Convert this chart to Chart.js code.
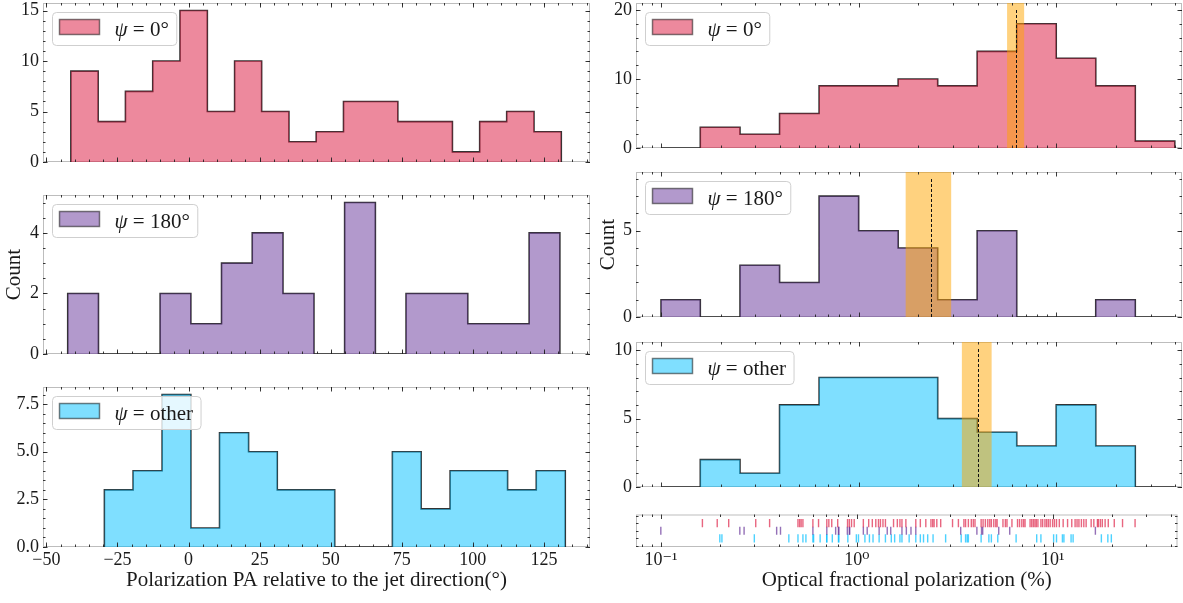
<!DOCTYPE html>
<html>
<head>
<meta charset="utf-8">
<script src="https://cdn.jsdelivr.net/npm/chart.js@4.4.0/dist/chart.umd.min.js"></script>
<style>
  html, body { margin: 0; padding: 0; background: #fff; overflow: hidden; }
  #wrap { position: relative; width: 1183px; height: 603px; }
  canvas { position: absolute; }
</style>
</head>
<body>
<div id="wrap"></div>
<script>
/*------ data: polarization PA histograms (deg) ------*/
const paEdges0 = [-41.4, -31.8, -22.2, -12.6, -3.0, 6.6, 16.2, 25.7, 35.3, 44.9, 54.5, 64.1, 73.6, 83.2, 92.8, 102.4, 111.9, 121.5, 131.1];
const paCounts0 = [9, 4, 7, 10, 15, 5, 10, 5, 2, 3, 6, 6, 4, 4, 1, 4, 5, 3];
const paEdges180 = [-42.5, -31.7, -20.9, -10.0, 0.8, 11.6, 22.4, 33.2, 44.1, 54.9, 65.7, 76.5, 87.3, 98.2, 109.0, 119.8, 130.6];
const paCounts180 = [2, 0, 0, 2, 1, 3, 4, 2, 0, 5, 0, 2, 2, 1, 1, 4];
const paEdgesOther = [-29.6, -19.5, -9.3, 0.8, 10.9, 21.1, 31.2, 41.3, 51.4, 61.6, 71.7, 81.8, 92.0, 102.1, 112.2, 122.3, 132.5];
const paCountsOther = [3, 4, 8, 1, 6, 5, 3, 3, 0, 0, 5, 2, 4, 4, 3, 4];

/*------ data: optical fractional polarization (%) ------*/
const fpEdges = [0.1, 0.158, 0.251, 0.398, 0.631, 1.0, 1.585, 2.512, 3.981, 6.31, 10.0, 15.85, 25.12, 39.81];
const fpCounts0 = [0, 3, 2, 5, 9, 9, 10, 9, 14, 18, 13, 9, 1];
const fpCounts180 = [1, 0, 3, 2, 7, 5, 4, 1, 5, 0, 0, 1, 0];
const fpCountsOther = [0, 2, 1, 6, 8, 8, 8, 5, 4, 3, 6, 3, 0];

const fpBand0 = [5.64, 6.88], fpMedian0 = 6.24;
const fpBand180 = [1.73, 2.94], fpMedian180 = 2.33;
const fpBandOther = [3.33, 4.71], fpMedianOther = 4.0;

const rug0 = [0.163, 0.194, 0.222, 0.305, 0.359, 0.501, 0.511, 0.52, 0.531, 0.597,
  0.638, 0.703, 0.72, 0.745, 0.799, 0.897, 0.916, 0.94, 0.97,
  1.08, 1.15, 1.20, 1.25, 1.29, 1.32, 1.36, 1.40, 1.54,
  1.61, 1.66, 1.70, 1.78, 2.00, 2.11, 2.25, 2.39, 2.44, 2.48,
  2.56, 2.68, 3.08, 3.30, 3.52, 3.59, 3.71, 3.84, 3.93,
  4.01, 4.31, 4.41, 4.53, 4.66, 4.77, 4.86, 5.00, 5.12, 5.20, 5.57, 5.73, 5.84, 6.19,
  6.61, 6.77, 6.95, 7.1, 7.22, 7.66, 7.81, 7.96, 8.11, 8.24, 8.4, 8.70, 8.88, 9.12, 9.30, 9.49, 9.7, 9.98,
  10.2, 10.45, 10.8, 11.3, 11.9, 12.5, 13.0, 13.3, 13.6, 14.0, 14.4, 14.8, 15.7,
  16.2, 16.9, 17.1, 17.5, 17.9, 18.5, 19.2, 20.6, 22.7, 26.3];
const rug180 = [0.100, 0.253, 0.266, 0.39, 0.408, 0.597, 0.703, 0.78, 0.806, 0.81, 0.895, 0.916, 0.92,
  1.08, 1.13, 1.30, 1.43, 1.49, 1.70, 1.79, 1.89, 2.00, 3.39, 4.10, 4.33, 4.39, 5.30, 6.03, 16.5];
const rugOther = [0.200, 0.205, 0.300, 0.45, 0.501, 0.531, 0.55, 0.597, 0.602,
  0.65, 0.702, 0.703, 0.75, 0.806, 0.81, 0.90, 0.995,
  1.02, 1.10, 1.16, 1.21, 1.30, 1.40, 1.50, 1.56,
  1.66, 1.70, 1.85, 2.00, 2.11, 2.19, 2.30, 2.45,
  2.84, 3.41, 3.59, 3.66, 3.71, 4.31, 4.72, 4.86, 5.24,
  6.50, 8.28, 8.70, 10.1, 10.45, 11.2, 11.4, 12.4, 12.7, 17.7, 19.1, 19.9];

const fpTicks = [0.1, 1, 10];
const groupLabels = ['0°', '180°', 'other'];

/*------ style ------*/
const FONT = "'Liberation Serif', 'DejaVu Serif', serif";
const INK = '#1a1a1a';
const fillCols = ['rgba(220, 20, 60, 0.5)', 'rgba(102, 51, 153, 0.5)', 'rgba(0, 191, 255, 0.5)'];
const rugCols = ['rgba(220, 20, 60, 0.65)', 'rgba(102, 51, 153, 0.7)', 'rgba(0, 191, 255, 0.7)'];

Chart.defaults.font.family = FONT;
Chart.defaults.color = INK;

function stepPoints(edges, counts) {
  const pts = [{x: edges[0], y: 0}];
  counts.forEach((c, i) => pts.push({x: edges[i], y: c}));
  pts.push({x: edges[edges.length - 1], y: 0});
  return pts;
}

function minorValues(scale, step) {
  const out = [];
  if (scale.type === 'logarithmic') {
    const k0 = Math.floor(Math.log10(scale.min)), k1 = Math.ceil(Math.log10(scale.max));
    for (let k = k0; k <= k1; k++) {
      for (let m = 2; m <= 9; m++) {
        const v = m * Math.pow(10, k);
        if (v >= scale.min && v <= scale.max) out.push(v);
      }
    }
  } else if (step) {
    for (let v = Math.ceil(scale.min / step) * step; v <= scale.max + 1e-9; v += step) out.push(v);
  }
  return out;
}

function roundRect(ctx, x, y, w, h, r) {
  ctx.beginPath();
  ctx.moveTo(x + r, y);
  ctx.lineTo(x + w - r, y);
  ctx.arcTo(x + w, y, x + w, y + r, r);
  ctx.lineTo(x + w, y + h - r);
  ctx.arcTo(x + w, y + h, x + w - r, y + h, r);
  ctx.lineTo(x + r, y + h);
  ctx.arcTo(x, y + h, x, y + h - r, r);
  ctx.lineTo(x, y + r);
  ctx.arcTo(x, y, x + r, y, r);
  ctx.closePath();
}

/*------ frame, inward ticks, span, median, legend ------*/
const decor = {
  id: 'decor',
  beforeDatasetsDraw(chart) {
    const {ctx, chartArea: a} = chart;
    ctx.save();
    ctx.strokeStyle = '#bdbdbd';
    ctx.lineWidth = 1;
    ctx.strokeRect(a.left + 0.5, a.top + 0.5, a.right - a.left - 1, a.bottom - a.top - 1);
    ctx.restore();
  },
  afterDatasetDraw(chart, args, o) {
    if (args.index !== 0 || !o.band) return;
    const {ctx, chartArea: a, scales: {x}} = chart;
    const x0 = x.getPixelForValue(o.band[0]), x1 = x.getPixelForValue(o.band[1]);
    ctx.save();
    ctx.fillStyle = 'rgba(255, 165, 0, 0.5)';
    ctx.fillRect(x0, a.top, x1 - x0, a.bottom - a.top);
    ctx.restore();
  },
  afterDatasetsDraw(chart, args, o) {
    const {ctx, chartArea: a, scales: {x, y}} = chart;
    ctx.save();
    if (o.median) {
      const px = Math.round(x.getPixelForValue(o.median)) + 0.5;
      ctx.strokeStyle = '#111';
      ctx.lineWidth = 1;
      ctx.setLineDash([3, 2]);
      ctx.beginPath();
      ctx.moveTo(px, a.bottom);
      ctx.lineTo(px, a.bottom - 0.955 * (a.bottom - a.top));
      ctx.stroke();
      ctx.setLineDash([]);
    }
    ctx.strokeStyle = '#222';
    ctx.lineWidth = 0.9;
    ctx.beginPath();
    const xt = (v, len) => {
      const px = Math.round(x.getPixelForValue(v)) + 0.5;
      ctx.moveTo(px, a.bottom); ctx.lineTo(px, a.bottom - len);
      ctx.moveTo(px, a.top); ctx.lineTo(px, a.top + len);
    };
    const yt = (v, len) => {
      const py = Math.round(y.getPixelForValue(v)) + 0.5;
      ctx.moveTo(a.left, py); ctx.lineTo(a.left + len, py);
      ctx.moveTo(a.right, py); ctx.lineTo(a.right - len, py);
    };
    minorValues(x, o.xMinor).forEach(v => xt(v, 2.5));
    x.ticks.forEach(t => xt(t.value, 4.5));
    minorValues(y, o.yMinor).forEach(v => yt(v, 2.5));
    if (o.yMajor !== false) y.ticks.forEach(t => yt(t.value, 4.5));
    ctx.stroke();
    ctx.restore();
  },
  afterDraw(chart, args, o) {
    if (!o.legend) return;
    const {ctx, chartArea: a} = chart;
    const fs = 21;
    const fill = chart.data.datasets[0].backgroundColor;
    ctx.save();
    ctx.font = 'italic ' + fs + 'px ' + FONT;
    const wPsi = ctx.measureText('ψ').width;
    ctx.font = fs + 'px ' + FONT;
    const rest = ' = ' + o.legend;
    const wRest = ctx.measureText(rest).width;
    const bx = a.left + 9.5, by = a.top + 9.5, bh = 33;
    const tx = bx + 7 + 40 + 15;
    const bw = tx + wPsi + wRest + 8 - bx;
    roundRect(ctx, bx, by, bw, bh, 4);
    ctx.fillStyle = 'rgba(255, 255, 255, 0.8)';
    ctx.fill();
    ctx.strokeStyle = '#cfcfcf';
    ctx.lineWidth = 1;
    ctx.stroke();
    ctx.fillStyle = fill;
    ctx.fillRect(bx + 7, by + 7, 40, 15);
    ctx.strokeStyle = 'rgba(0, 0, 0, 0.5)';
    ctx.lineWidth = 1.5;
    ctx.strokeRect(bx + 7, by + 7, 40, 15);
    ctx.fillStyle = INK;
    ctx.textBaseline = 'middle';
    ctx.font = 'italic ' + fs + 'px ' + FONT;
    ctx.fillText('ψ', tx, by + bh / 2 + 1);
    ctx.font = fs + 'px ' + FONT;
    ctx.fillText(rest, tx + wPsi, by + bh / 2 + 1);
    ctx.restore();
  }
};

const supers = {'-': '\u207B', '0': '\u2070', '1': '\u00B9', '2': '\u00B2', '3': '\u00B3'};
function logLabel(v) {
  const e = String(Math.round(Math.log10(v)));
  return '10' + e.split('').map(ch => supers[ch]).join('');
}
function minusLabel(dec) {
  return v => (v < 0 ? '\u2212' : '') + Math.abs(v).toFixed(dec);
}

function makePanel(p) {
  const c = document.createElement('canvas');
  c.width = p.w + p.padL + p.padR;
  c.height = p.h + p.padT + p.padB;
  c.style.left = (p.x - p.padL) + 'px';
  c.style.top = (p.y - p.padT) + 'px';
  document.getElementById('wrap').appendChild(c);

  const xScale = {
    type: p.log ? 'logarithmic' : 'linear',
    min: p.xMin, max: p.xMax,
    grid: {display: false, drawTicks: false}, border: {display: false},
    ticks: {
      display: !!p.xLabels, padding: 2, includeBounds: false,
      font: {size: 18}, color: INK, maxRotation: 0,
      stepSize: p.log ? undefined : 25,
      callback: p.log ? logLabel : minusLabel(0)
    },
    title: {display: !!p.xTitle, text: p.xTitle, font: {size: 21}, color: INK, padding: {top: 0, bottom: 4}},
    afterFit: s => { s.height = p.padB; s.paddingLeft = 0; s.paddingRight = 0; }
  };
  if (p.log) xScale.afterBuildTicks = s => { s.ticks = fpTicks.map(v => ({value: v})); };

  return new Chart(c, {
    type: 'line',
    data: {datasets: p.datasets},
    options: {
      responsive: false,
      animation: false,
      events: [],
      layout: {padding: {left: 0, top: p.padT, right: p.padR, bottom: 0}},
      scales: {
        x: xScale,
        y: {
          type: 'linear', min: p.yMin || 0, max: p.yMax,
          grid: {display: false, drawTicks: false}, border: {display: false},
          ticks: {
            display: p.yLabels !== false, padding: 4, includeBounds: false,
            stepSize: p.yStep, font: {size: 18}, color: INK,
            callback: minusLabel(p.yDec || 0)
          },
          title: {display: !!p.yTitle, text: p.yTitle, font: {size: 21}, color: INK, padding: {top: 2, bottom: 0}},
          afterFit: s => { s.width = p.padL; s.paddingTop = 0; s.paddingBottom = 0; }
        }
      },
      plugins: {
        legend: {display: false},
        tooltip: {enabled: false},
        decor: {band: p.band, median: p.median, legend: p.legend, xMinor: p.xMinor, yMinor: p.yMinor, yMajor: p.yMajor}
      }
    },
    plugins: [decor]
  });
}

function histSets(edges, counts, fill) {
  const pts = stepPoints(edges, counts);
  return [
    {data: pts, stepped: true, fill: 'origin', backgroundColor: fill, borderWidth: 0, pointRadius: 0},
    {data: pts, stepped: true, fill: false, borderColor: 'rgba(15, 15, 15, 0.85)', borderWidth: 1.6, pointRadius: 0}
  ];
}

/*------ left column: PA ------*/
const L = {x: 43, w: 547, padL: 43, padR: 4, padT: 3, xMin: -51.2, xMax: 141.2, xMinor: 5};
makePanel(Object.assign({}, L, {y: 3, h: 159, padB: 14, yMax: 15.75, yStep: 5, yMinor: 1,
  legend: groupLabels[0], datasets: histSets(paEdges0, paCounts0, fillCols[0])}));
makePanel(Object.assign({}, L, {y: 195, h: 159, padB: 14, yMax: 5.25, yStep: 2, yMinor: 0.5, yTitle: 'Count',
  legend: groupLabels[1], datasets: histSets(paEdges180, paCounts180, fillCols[1])}));
makePanel(Object.assign({}, L, {y: 387, h: 160, padB: 50, yMax: 8.4, yStep: 2.5, yDec: 1, yMinor: 0.5,
  xLabels: true, xTitle: 'Polarization PA relative to the jet direction(°)',
  legend: groupLabels[2], datasets: histSets(paEdgesOther, paCountsOther, fillCols[2])}));

/*------ right column: fractional polarization ------*/
const R = {x: 636, w: 546, padL: 42, padR: 1, padT: 3, log: true, xMin: 0.0747, xMax: 43.3};
makePanel(Object.assign({}, R, {y: 3, h: 145, padB: 14, yMax: 21, yStep: 10, yMinor: 2,
  band: fpBand0, median: fpMedian0, legend: groupLabels[0], datasets: histSets(fpEdges, fpCounts0, fillCols[0])}));
makePanel(Object.assign({}, R, {y: 172, h: 145, padB: 14, yMax: 8.4, yStep: 5, yMinor: 1, yTitle: 'Count',
  band: fpBand180, median: fpMedian180, legend: groupLabels[1], datasets: histSets(fpEdges, fpCounts180, fillCols[1])}));
makePanel(Object.assign({}, R, {y: 342, h: 145, padB: 14, yMax: 10.6, yStep: 5, yMinor: 1,
  band: fpBandOther, median: fpMedianOther, legend: groupLabels[2], datasets: histSets(fpEdges, fpCountsOther, fillCols[2])}));

/*------ rug of individual values ------*/
const rugRows = [rug0, rug180, rugOther];
makePanel(Object.assign({}, R, {y: 512, h: 35, padB: 50, yMin: -1.15, yMax: 3.15, yStep: 1, yLabels: false,
  yMajor: false, yMinor: 1, xLabels: true, xTitle: 'Optical fractional polarization (%)',
  datasets: rugRows.map((vals, i) => ({
    data: vals.map(v => ({x: v, y: 2 - i})),
    showLine: false, pointStyle: 'line', rotation: 90, pointRadius: 4.1,
    borderColor: rugCols[i], borderWidth: 1.4, backgroundColor: rugCols[i]
  }))}));
</script>
</body>
</html>
